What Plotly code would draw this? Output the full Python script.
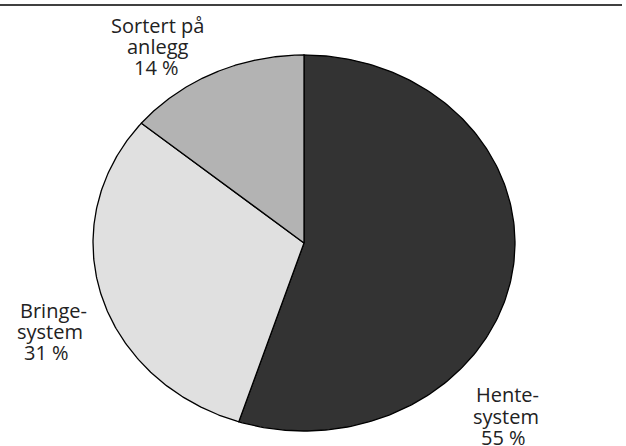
import numpy as np
import plotly.graph_objects as go

# ---- data ----
categories = ["Hentesystem", "Bringesystem", "Sortert på anlegg"]
values = [55, 31, 14]
label_lines = [["Hente-", "system", "55 %"],
               ["Bringe-", "system", "31 %"],
               ["Sortert på", "anlegg", "14 %"]]
colors = ["#333333", "#e0e0e0", "#b3b3b3"]

# ---- layout geometry (pixel space) ----
W, H = 626, 446
cx, cy, rx, ry = 304, 243, 211, 188
# per-line (x, y) centres of the label texts
label_xy = [[(507, 394), (506, 416), (503, 437)],
            [(53, 310), (50, 331), (46, 352)],
            [(157, 25), (158, 46), (156, 67)]]

fig = go.Figure()
total = sum(values)
start = 0.0
for cat, v, col in zip(categories, values, colors):
    frac0 = start / total
    frac1 = (start + v) / total
    t = np.linspace(frac0, frac1, 200) * 2 * np.pi  # clockwise from 12 o'clock
    xs = np.concatenate([[cx], cx + rx * np.sin(t), [cx]])
    ys = np.concatenate([[cy], cy - ry * np.cos(t), [cy]])
    fig.add_trace(go.Scatter(
        x=xs, y=ys, mode="lines", fill="toself", fillcolor=col,
        line=dict(color="#000000", width=1.3), hoverinfo="skip",
        showlegend=False, name=cat,
    ))
    start += v

for lines, xy in zip(label_lines, label_xy):
    for txt, (lx, ly) in zip(lines, xy):
        fig.add_annotation(
            x=lx, y=ly, xref="x", yref="y", text=txt,
            showarrow=False, xanchor="center", yanchor="middle",
            font=dict(family="Open Sans, sans-serif", size=20, color="#222222"),
        )

fig.add_shape(type="line", x0=0, x1=622, y0=5, y1=5, xref="x", yref="y",
              line=dict(color="#000000", width=1.5))

fig.update_layout(
    width=W, height=H,
    margin=dict(l=0, r=0, t=0, b=0),
    paper_bgcolor="white", plot_bgcolor="white",
    xaxis=dict(range=[0, W], visible=False, fixedrange=True),
    yaxis=dict(range=[H, 0], visible=False, fixedrange=True),
)

fig.write_html("out.html", config={"displayModeBar": False},
               post_script="document.body.style.margin='0px';")
